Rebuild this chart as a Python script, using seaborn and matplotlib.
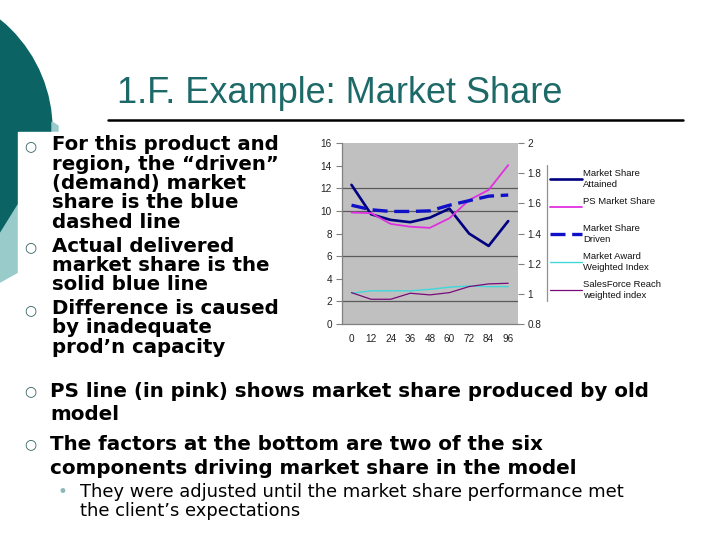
import matplotlib
matplotlib.use("Agg")
import matplotlib.pyplot as plt
import seaborn as sns
import pandas as pd
from matplotlib.patches import Circle, Polygon, Rectangle
from matplotlib.lines import Line2D

# ---------------- data ----------------
months = [0, 12, 24, 36, 48, 60, 72, 84, 96]
month_labels = ["0", "12", "24", "36", "48", "60", "72", "84", "96"]
ms_attained = [12.3, 9.7, 9.2, 9.0, 9.4, 10.2, 8.0, 6.9, 9.1]
ps_share = [9.85, 9.8, 8.85, 8.6, 8.5, 9.35, 10.95, 11.85, 14.05]
ms_driven = [10.5, 10.1, 9.95, 9.95, 10.0, 10.5, 10.9, 11.3, 11.4]
award_index = [1.004, 1.02, 1.02, 1.02, 1.03, 1.044, 1.052, 1.048, 1.048]
reach_index = [1.008, 0.964, 0.964, 1.004, 0.993, 1.008, 1.048, 1.066, 1.07]
left_ticks = [0, 2, 4, 6, 8, 10, 12, 14, 16]
right_ticks = [0.8, 1.0, 1.2, 1.4, 1.6, 1.8, 2.0]
right_tick_labels = ["0.8", "1", "1.2", "1.4", "1.6", "1.8", "2"]
grid_levels = [2, 6, 10, 12]

labels = ["Market Share\nAttained", "PS Market Share", "Market Share\nDriven",
          "Market Award\nWeighted Index", "SalesForce Reach\nweighted index"]

title = "1.F. Example: Market Share"
bullets_top = [
    ["For this product and", "region, the \u201cdriven\u201d", "(demand) market",
     "share is the blue", "dashed line"],
    ["Actual delivered", "market share is the", "solid blue line"],
    ["Difference is caused", "by inadequate", "prod\u2019n capacity"],
]
bullets_low = [
    ["PS line (in pink) shows market share produced by old", "model"],
    ["The factors at the bottom are two of the six",
     "components driving market share in the model"],
]
sub_bullet = ["They were adjusted until the market share performance met",
              "the client\u2019s expectations"]

df = pd.DataFrame({"month": months, "attained": ms_attained, "ps": ps_share,
                   "driven": ms_driven, "award": award_index, "reach": reach_index})

# ---------------- figure ----------------
sns.set_style("white")
plt.rcParams["font.family"] = ["DejaVu Sans"]
W, H = 720, 540
fig = plt.figure(figsize=(7.2, 5.4), dpi=100)
fig.patch.set_facecolor("white")

# background / decoration layer in pixel coordinates
bg = fig.add_axes([0, 0, 1, 1], zorder=-1)
bg.set_xlim(0, W)
bg.set_ylim(H, 0)
bg.axis("off")
dark_teal = "#0B6463"
light_teal = "#99CBCB"
bg.add_patch(Circle((-90, 130), 142, color=dark_teal, zorder=1))
bg.add_patch(Polygon([(0, 234), (18, 205), (18, 272), (0, 282)], closed=True,
                     color=light_teal, zorder=2))
bg.add_patch(Polygon([(52, 122), (58, 126), (58, 132), (52, 132)], closed=True,
                     color=light_teal, zorder=2))
bg.add_patch(Rectangle((18, 132), 700, 410, color="white", zorder=3))

# title
bg.text(117, 103, title, fontsize=26, color="#1D6968", family="Liberation Sans",
        ha="left", va="baseline", zorder=5)
bg.add_line(Line2D([108, 683], [119.5, 119.5], color="black", lw=1.8, zorder=5))

# top bullets
bul_color = "#2E5E5E"
y = 150.5
pitch = 19.3
for block in bullets_top:
    bg.text(30, y - 4, "\u25cb", fontsize=10, color=bul_color, ha="center",
            va="center", zorder=5)
    for line in block:
        bg.text(52, y, line, fontsize=14.2, fontweight="bold", color="black",
                ha="left", va="baseline", zorder=5)
        y += pitch
    y += 4.5

# lower bullets
for block, y0 in zip(bullets_low, [397, 450]):
    bg.text(30, y0 - 6, "\u25cb", fontsize=10, color=bul_color, ha="center",
            va="center", zorder=5)
    for i, line in enumerate(block):
        bg.text(50, y0 + i * 23.5, line, fontsize=14.3, fontweight="bold",
                color="black", ha="left", va="baseline", zorder=5)

bg.text(62, 492, "\u2022", fontsize=12, color="#8DB8B8", ha="center",
        va="center", zorder=5)
for i, line in enumerate(sub_bullet):
    bg.text(80, 497 + i * 19, line, fontsize=12.9, color="black",
            ha="left", va="baseline", zorder=5)

# ---------------- chart ----------------
L, R, T, B = 341.7, 518, 143, 324
ax = fig.add_axes([L / W, 1 - B / H, (R - L) / W, (B - T) / H], zorder=1)
ax.set_facecolor("#C0C0C0")
ax2 = ax.twinx()

for lv in grid_levels:
    ax.axhline(lv, color="#5A5A5A", lw=0.9, zorder=0.5)

sns.lineplot(data=df, x="month", y="attained", ax=ax, color="#000080", lw=1.9,
             label=labels[0])
sns.lineplot(data=df, x="month", y="ps", ax=ax, color="#E030E0", lw=1.3,
             label=labels[1])
sns.lineplot(data=df, x="month", y="driven", ax=ax, color="#1010C8", lw=2.4,
             linestyle=(0, (4.5, 2.0)), label=labels[2])
sns.lineplot(data=df, x="month", y="award", ax=ax2, color="#40D8D8", lw=1.0,
             label=labels[3])
sns.lineplot(data=df, x="month", y="reach", ax=ax2, color="#7A0A7A", lw=0.9,
             label=labels[4])

h1, l1 = ax.get_legend_handles_labels()
h2, l2 = ax2.get_legend_handles_labels()
for a in (ax, ax2):
    if a.get_legend() is not None:
        a.get_legend().remove()

ax.set_xlim(-6, 102)
ax.set_ylim(0, 16)
ax2.set_ylim(0.8, 2.0)
ax.set_xticks(months)
ax.set_xticklabels(month_labels)
ax.set_xticks([m + 6 for m in months[:-1]], minor=True)
ax.set_yticks(left_ticks)
ax2.set_yticks(right_ticks)
ax2.set_yticklabels(right_tick_labels)
ax.set_xlabel("")
ax.set_ylabel("")
ax2.set_ylabel("")

for lab in ax.get_xticklabels() + ax.get_yticklabels() + ax2.get_yticklabels():
    lab.set_fontfamily("Liberation Sans")
    lab.set_fontsize(7.2)
    lab.set_color("#222222")

ax.tick_params(axis="x", which="major", length=0, pad=7)
ax.tick_params(axis="x", which="minor", length=3, direction="in", color="#808080")
ax.tick_params(axis="y", length=4, direction="out", color="#808080", pad=3)
ax2.tick_params(axis="y", length=4, direction="out", color="#808080", pad=3)

for s in ["top", "right"]:
    ax.spines[s].set_visible(False)
for s in ["top", "right", "left", "bottom"]:
    ax2.spines[s].set_visible(False)
ax.spines["left"].set_color("#808080")
ax.spines["bottom"].set_color("#808080")
ax.spines["left"].set_linewidth(0.9)
ax.spines["bottom"].set_linewidth(0.9)

# every legend slot is two text lines high, as in the reference
leg_labels = [lab if "\n" in lab else lab + "\n" for lab in l1 + l2]
leg = fig.legend(h1 + h2, leg_labels, loc="upper left",
                 bbox_to_anchor=(548 / W, 1 - 167 / H), frameon=False,
                 prop={"family": "Liberation Sans", "size": 6.8},
                 handlelength=3.4, handletextpad=0.1, labelspacing=0.8,
                 borderpad=0.2, borderaxespad=0)
for t in leg.get_texts():
    t.set_color("#111111")
    t.set_linespacing(1.3)

bg.add_line(Line2D([547, 547], [165, 301], color="#909090", lw=0.9, zorder=5))

fig.savefig("out.png", dpi=100)
